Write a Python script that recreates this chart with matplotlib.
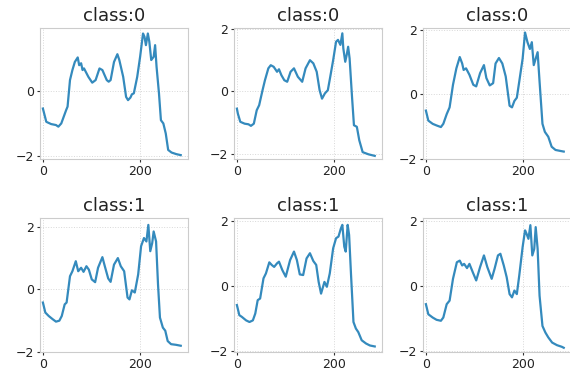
import matplotlib
matplotlib.use("Agg")
import matplotlib.pyplot as plt
from matplotlib.ticker import MultipleLocator

# ---------------------------------------------------------------------------
# Data: six sample series, two classes
# ---------------------------------------------------------------------------
titles = ["class:0", "class:0", "class:0", "class:1", "class:1", "class:1"]

x_00 = [0, 7, 17, 27, 32, 38, 48, 51, 56, 61, 66, 72, 75, 79, 82, 85, 94, 102,
        109, 117, 123, 132, 136, 140, 147, 154, 158, 166, 172, 176, 181, 184,
        188, 195, 201, 207, 210, 213, 217, 220, 224, 229, 232, 235, 240, 244,
        249, 254, 259, 266, 276, 285]
y_00 = [-0.54, -0.95, -1.02, -1.05, -1.10, -1.00, -0.59, -0.48, 0.34, 0.65,
        0.90, 1.04, 0.80, 0.86, 0.65, 0.70, 0.44, 0.26, 0.34, 0.70, 0.65, 0.34,
        0.29, 0.34, 0.90, 1.14, 0.96, 0.44, -0.18, -0.28, -0.20, -0.10, -0.07,
        0.44, 1.06, 1.78, 1.68, 1.42, 1.78, 1.53, 0.96, 1.06, 1.42, 0.75,
        -0.07, -0.90, -1.00, -1.31, -1.82, -1.90, -1.95, -1.98]

x_01 = [0, 2, 7, 16, 24, 29, 35, 41, 46, 53, 58, 65, 70, 76, 83, 87, 92, 98,
        104, 111, 118, 126, 135, 142, 151, 158, 165, 171, 176, 182, 188, 193,
        199, 205, 209, 214, 218, 220, 224, 227, 230, 233, 238, 242, 248, 253,
        260, 272, 285]
y_01 = [-0.56, -0.72, -0.98, -1.04, -1.06, -1.11, -1.04, -0.61, -0.45, 0.03,
        0.35, 0.73, 0.83, 0.78, 0.62, 0.70, 0.51, 0.35, 0.30, 0.62, 0.73, 0.46,
        0.30, 0.73, 0.99, 0.89, 0.62, 0.03, -0.24, -0.07, 0.03, 0.46, 0.99,
        1.58, 1.64, 1.48, 1.85, 1.37, 0.94, 1.16, 1.42, 1.05, -0.18, -1.09,
        -1.14, -1.57, -1.95, -2.02, -2.07]

x_02 = [0, 5, 14, 22, 31, 36, 43, 49, 56, 63, 70, 75, 78, 83, 90, 98, 104,
        112, 120, 125, 132, 139, 144, 151, 158, 165, 173, 178, 183, 188, 193,
        200, 205, 210, 215, 219, 223, 227, 231, 235, 241, 246, 253, 260, 268,
        278, 285]
y_02 = [-0.50, -0.81, -0.91, -0.96, -1.01, -0.91, -0.61, -0.40, 0.30, 0.81,
        1.16, 0.96, 0.76, 0.81, 0.61, 0.30, 0.25, 0.66, 0.91, 0.51, 0.28, 0.35,
        0.96, 1.13, 0.96, 0.56, -0.35, -0.40, -0.20, -0.10, 0.40, 1.11, 1.92,
        1.62, 1.41, 1.62, 0.91, 1.11, 1.31, 0.40, -0.91, -1.16, -1.31, -1.62,
        -1.72, -1.75, -1.77]

x_10 = [0, 5, 12, 20, 27, 34, 39, 45, 49, 56, 61, 68, 73, 79, 84, 90, 95, 101,
        108, 114, 123, 128, 135, 140, 147, 155, 161, 168, 175, 179, 184, 190,
        197, 203, 209, 214, 218, 222, 226, 229, 234, 238, 242, 248, 253, 258,
        265, 275, 285]
y_10 = [-0.42, -0.74, -0.85, -0.95, -1.03, -1.00, -0.85, -0.48, -0.42, 0.42,
        0.58, 0.90, 0.58, 0.69, 0.56, 0.74, 0.63, 0.32, 0.23, 0.69, 1.03, 0.74,
        0.35, 0.24, 0.79, 1.00, 0.74, 0.58, -0.26, -0.32, -0.03, -0.10, 0.48,
        1.38, 1.64, 1.53, 2.06, 1.22, 1.48, 1.85, 1.53, 0.16, -0.90, -1.22,
        -1.32, -1.65, -1.75, -1.77, -1.80]

x_11 = [0, 5, 10, 19, 26, 33, 38, 43, 48, 55, 60, 67, 72, 77, 83, 87, 94, 101,
        110, 118, 124, 130, 137, 144, 151, 158, 164, 169, 174, 181, 186, 192,
        199, 205, 210, 215, 218, 222, 225, 229, 232, 236, 241, 246, 251, 258,
        267, 275, 285]
y_11 = [-0.59, -0.90, -0.95, -1.06, -1.11, -1.06, -0.85, -0.44, -0.39, 0.23,
        0.38, 0.72, 0.64, 0.58, 0.69, 0.74, 0.48, 0.28, 0.79, 1.05, 0.79, 0.35,
        0.33, 0.84, 1.00, 0.76, 0.64, 0.12, -0.24, 0.12, -0.03, 0.38, 1.15,
        1.46, 1.51, 1.76, 1.87, 1.20, 1.05, 1.87, 1.56, 0.33, -1.11, -1.31,
        -1.42, -1.67, -1.77, -1.83, -1.86]

x_12 = [0, 5, 14, 22, 31, 36, 43, 49, 56, 64, 70, 75, 79, 85, 90, 97, 104,
        112, 120, 127, 136, 142, 149, 154, 161, 167, 173, 178, 183, 188, 193,
        200, 205, 208, 212, 216, 220, 224, 227, 231, 235, 241, 247, 253, 261,
        271, 281, 285]
y_12 = [-0.55, -0.86, -0.96, -1.03, -1.06, -0.96, -0.55, -0.44, 0.23, 0.74,
        0.79, 0.64, 0.69, 0.56, 0.69, 0.43, 0.18, 0.59, 0.95, 0.59, 0.23, 0.54,
        0.95, 1.00, 0.64, 0.28, -0.24, -0.34, -0.13, -0.24, 0.33, 1.21, 1.72,
        1.62, 1.46, 1.88, 0.95, 1.15, 1.82, 1.15, -0.29, -1.22, -1.42, -1.57,
        -1.73, -1.81, -1.86, -1.89]

series = [(x_00, y_00), (x_01, y_01), (x_02, y_02),
          (x_10, y_10), (x_11, y_11), (x_12, y_12)]

# y ranges as seen in each panel of the original
ylims = [(-2.1, 1.95), (-2.17, 2.02), (-2.0, 2.06),
         (-2.0, 2.28), (-2.03, 2.08), (-2.02, 2.1)]

# ---------------------------------------------------------------------------
# Layout (pixel boxes, the right column runs off the edge like the original)
# ---------------------------------------------------------------------------
W, H = 570, 373
col_left = [40, 234, 423]
col_width = 148
row_top = [28, 218]
row_height = [131, 134]

fig = plt.figure(figsize=(W / 100, H / 100), dpi=100)

for i, (xs, ys) in enumerate(series):
    r, c = divmod(i, 3)
    left = col_left[c] / W
    bottom = 1 - (row_top[r] + row_height[r]) / H
    ax = fig.add_axes([left, bottom, col_width / W, row_height[r] / H])

    ax.plot(xs, ys, color="#348ABD", linewidth=1.6)
    ax.set_xlim(-6, 300)
    ax.set_ylim(*ylims[i])
    ax.xaxis.set_major_locator(MultipleLocator(200))
    ax.yaxis.set_major_locator(MultipleLocator(2))

    ax.grid(True, color="#d8d8d8", linestyle=":", linewidth=0.7)
    for sp in ax.spines.values():
        sp.set_color("#cccccc")
        sp.set_linewidth(0.8)
    ax.tick_params(direction="out", length=2.5, width=0.8, color="#333333",
                   labelsize=9, labelcolor="#222222", pad=2)
    ax.set_title(titles[i], fontsize=13, pad=5, color="#222222")

plt.savefig("out.png", dpi=100)
plt.close()
